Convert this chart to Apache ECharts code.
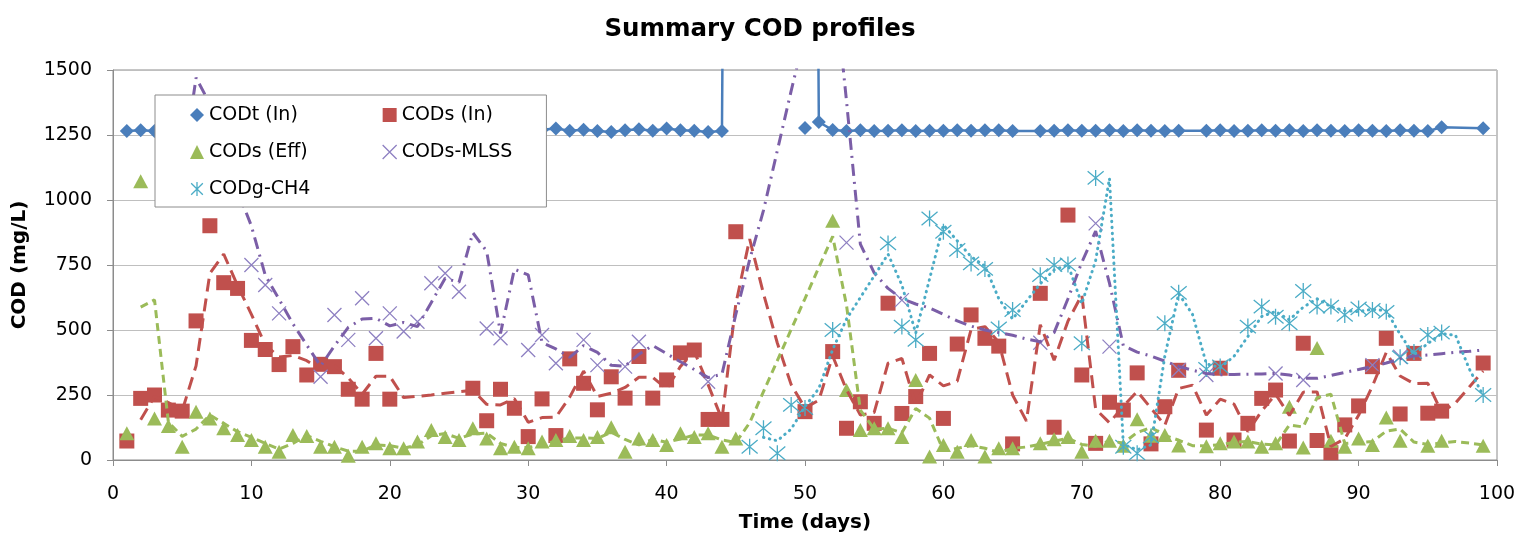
<!DOCTYPE html>
<html><head><meta charset="utf-8">
<script src="https://cdn.jsdelivr.net/npm/echarts@6/dist/echarts.min.js"></script>
<style>html,body{margin:0;padding:0;background:#fff}#chart{width:1520px;height:540px}</style>
</head><body><div id="chart"></div>
<script>
// ---------------- data ----------------
// [day, COD mg/L]
const codtIn = [[1,1265],[2,1268],[3,1265],[31,1270],[32,1275],[33,1266],[34,1270],[35,1265],[36,1262],[37,1268],[38,1272],[39,1266],[40,1275],[41,1268],[42,1266],[43,1262],[44,1265],[45,9000],[50,9000],[51,1300],[52,1269],[53,1265],[54,1268],[55,1265],[56,1266],[57,1268],[58,1265],[59,1266],[60,1266],[61,1268],[62,1266],[63,1268],[64,1268],[65,1265],[67,1265],[68,1266],[69,1268],[70,1266],[71,1266],[72,1268],[73,1265],[74,1268],[75,1266],[76,1265],[77,1266],[79,1266],[80,1268],[81,1265],[82,1266],[83,1268],[84,1266],[85,1268],[86,1265],[87,1268],[88,1266],[89,1265],[90,1268],[91,1266],[92,1265],[93,1268],[94,1266],[95,1265],[96,1280],[99,1276]];
const codtInDay50 = [[50,1277]];
const codsIn = [[1,73],[2,237],[3,250],[4,192],[5,188],[6,535],[7,901],[8,682],[9,660],[10,460],[11,425],[12,367],[13,436],[14,327],[15,368],[16,359],[17,272],[18,234],[19,410],[20,234],[26,276],[27,151],[28,272],[29,199],[30,90],[31,235],[32,94],[33,389],[34,295],[35,193],[36,320],[37,238],[38,398],[39,238],[40,308],[41,412],[42,423],[43,156],[44,156],[45,878],[50,186],[52,417],[53,122],[54,224],[55,141],[56,603],[57,179],[58,244],[59,410],[60,160],[61,446],[62,558],[63,468],[64,438],[65,62],[67,641],[68,126],[69,942],[70,327],[71,64],[72,222],[73,192],[74,335],[75,62],[76,205],[77,345],[79,115],[80,353],[81,77],[82,141],[83,237],[84,269],[85,73],[86,449],[87,75],[88,28],[89,135],[90,208],[91,359],[92,468],[93,177],[94,410],[95,180],[96,188],[99,373]];
const codsEff = [[1,103],[2,1072],[3,160],[4,131],[5,51],[6,186],[7,160],[8,122],[9,96],[10,77],[11,51],[12,32],[13,96],[14,92],[15,51],[16,51],[17,16],[18,51],[19,64],[20,45],[21,45],[22,71],[23,115],[24,88],[25,77],[26,122],[27,83],[28,45],[29,51],[30,45],[31,71],[32,77],[33,92],[34,77],[35,88],[36,126],[37,32],[38,83],[39,77],[40,58],[41,103],[42,88],[43,103],[44,51],[45,83],[52,920],[53,269],[54,115],[55,122],[56,122],[57,88],[58,308],[59,13],[60,58],[61,32],[62,77],[63,13],[64,45],[65,45],[67,64],[68,80],[69,88],[70,32],[71,74],[72,74],[73,55],[74,157],[75,93],[76,96],[77,56],[79,53],[80,64],[81,71],[82,71],[83,51],[84,64],[85,205],[86,48],[87,431],[88,74],[89,51],[90,83],[91,58],[92,163],[93,74],[95,55],[96,74],[99,55]];
const codsMlss = [[10,750],[11,673],[12,564],[15,320],[16,558],[17,462],[18,622],[19,468],[20,564],[21,494],[22,532],[23,680],[24,718],[25,647],[27,506],[28,468],[30,423],[31,481],[32,372],[34,462],[35,365],[37,359],[38,455],[43,301],[53,836],[57,615],[67,451],[71,910],[72,436],[77,346],[79,327],[84,333],[86,308],[91,365],[93,397]];
const codgCh4 = [[46,51],[47,122],[48,26],[49,212],[50,200],[52,500],[56,833],[57,513],[58,462],[59,929],[60,878],[61,808],[62,756],[63,735],[64,506],[65,577],[67,711],[68,750],[69,752],[70,449],[71,1085],[73,51],[74,26],[75,90],[76,526],[77,643],[79,350],[80,360],[82,513],[83,590],[84,551],[85,526],[86,650],[87,590],[88,590],[89,558],[90,583],[91,577],[92,570],[93,395],[94,415],[95,481],[96,490],[99,250]];

// trend lines (2-point moving-average style lines), one value per day from the start day
const trendRedStart = 2;
const trendRed = [155,244,221,190,362,718,792,671,560,443,
 396,402,382,348,364,316,253,322,322,240,
 245,250,257,263,268,214,212,236,145,163,
 165,242,342,244,257,279,318,318,273,360,
 418,290,156,600,850,640,450,290,200,230,
 400,270,173,183,372,391,212,327,285,303,
 502,513,453,250,150,520,384,534,635,196,
 143,207,264,199,134,275,288,173,234,215,
 109,189,253,171,261,262,52,82,172,284,
 414,323,294,295,184,219,281,342];
const trendGreenStart = 2;
const trendGreen = [588,616,146,91,119,173,141,109,87,64,
 42,64,94,72,51,34,34,58,55,45,
 58,93,102,83,100,103,64,48,48,58,
 74,85,85,83,107,79,58,80,68,81,
 96,96,77,67,143,263,382,502,621,741,
 860,595,192,119,122,105,198,161,36,45,
 55,45,29,45,50,60,72,84,60,53,
 74,65,106,125,95,76,55,54,59,68,
 71,61,58,135,127,240,253,63,67,71,
 111,119,69,60,65,71,65,58];
const trendPurpleStart = 5;
const trendPurple = [1100,1470,1370,1012,1037,900,711,618,524,442,
 361,439,510,542,545,516,529,513,606,699,
 683,874,803,487,734,712,452,427,395,440,
 414,364,361,407,440,409,378,348,317,330,
 560,770,960,1190,1420,1640,1860,1900,1380,830,
 720,660,620,600,585,560,535,515,500,490,
 480,465,455,490,620,760,880,680,440,415,
 400,380,360,345,333,328,329,330,331,333,
 327,315,314,325,337,348,360,373,389,400,
 404,409,414,418,423];
const trendCyanStart = 47;
const trendCyan = [87,74,119,206,275,425,542,625,708,792,
 673,488,696,904,843,782,746,621,542,611,
 678,731,751,601,767,1083,60,39,58,400,
 640,560,370,355,399,475,552,571,539,588,
 620,590,574,571,580,574,483,405,448,486,
 480,350,248];

const xTicks = {min:0, max:100, step:10};
const yTicks = {min:0, max:1500, step:250};

// ---------------- styling ----------------
const F = 'DejaVu Sans';
const COL = {blue:'#4a7ebb', red:'#c0504d', green:'#9bbb59', purple:'#8e80c2', purpleLine:'#7b5ea7', cyan:'#4bacc6'};
const X_PATH = 'path://M0,0L10,10M10,0L0,10';
const STAR_PATH = 'path://M0,0L10,10M10,0L0,10M5,-1L5,11';
const toPairs = (start, arr) => arr.map((v, i) => [start + i, v]);

const legendText = {fontFamily:F, fontSize:19, color:'#000', lineHeight:20};

const option = {
  animation:false,
  backgroundColor:'#ffffff',
  title:{text:'Summary COD profiles', left:'center', top:17, padding:0,
    textStyle:{fontFamily:F, fontSize:24.5, fontWeight:'bold', color:'#000'}},
  grid:{left:113, right:23, top:70, bottom:80, show:true, borderColor:'#8c8c8c', borderWidth:1,
    backgroundColor:'rgba(0,0,0,0)', outerBoundsMode:'none', containLabel:false},
  legend:[
    {orient:'vertical', left:155, top:95, padding:[10,236,8,35], itemGap:17, itemWidth:14, itemHeight:14,
      backgroundColor:'#ffffff', borderColor:'#8c8c8c', borderWidth:1, zlevel:1, z:10, selectedMode:false,
      textStyle:legendText,
      data:[
        {name:'CODt (In)', icon:'diamond', itemStyle:{color:COL.blue, borderWidth:0}},
        {name:'CODs (Eff)', icon:'triangle', itemStyle:{color:COL.green, borderWidth:0}},
        {name:'CODg-CH4', icon:STAR_PATH, itemStyle:{color:'rgba(0,0,0,0)', borderColor:COL.cyan, borderWidth:1.3}}
      ]},
    {orient:'vertical', left:382, top:95, padding:[10,5,8,0], itemGap:17, itemWidth:14, itemHeight:14,
      zlevel:1, z:11, selectedMode:false, textStyle:legendText,
      data:[
        {name:'CODs (In)', icon:'rect', itemStyle:{color:COL.red, borderWidth:0}},
        {name:'CODs-MLSS', icon:X_PATH, itemStyle:{color:'rgba(0,0,0,0)', borderColor:COL.purple, borderWidth:1.3}}
      ]}
  ],
  xAxis:{type:'value', min:xTicks.min, max:xTicks.max, interval:xTicks.step,
    name:'Time (days)', nameLocation:'middle', nameGap:53, nameMoveOverlap:false,
    nameTextStyle:{fontFamily:F, fontSize:20, fontWeight:'bold', color:'#000'},
    axisLine:{show:true, onZero:false, lineStyle:{color:'#8c8c8c', width:1}},
    axisTick:{show:true, inside:false, length:6, lineStyle:{color:'#8c8c8c'}},
    axisLabel:{fontFamily:F, fontSize:19, color:'#000', margin:25, formatter:v => String(v)},
    splitLine:{show:false}},
  yAxis:{type:'value', min:yTicks.min, max:yTicks.max, interval:yTicks.step,
    name:'COD (mg/L)', nameLocation:'middle', nameGap:83, nameRotate:90, nameMoveOverlap:false,
    nameTextStyle:{fontFamily:F, fontSize:20, fontWeight:'bold', color:'#000'},
    axisLine:{show:true, lineStyle:{color:'#8c8c8c', width:1}},
    axisTick:{show:true, inside:false, length:6, lineStyle:{color:'#8c8c8c'}},
    axisLabel:{fontFamily:F, fontSize:19, color:'#000', margin:21, formatter:v => String(v)},
    splitLine:{show:true, lineStyle:{color:'#bfbfbf', width:1}}},
  series:[
    {name:'CODt (In)', type:'line', data:codtIn, clip:true, symbol:'diamond', symbolSize:14, showSymbol:true,
      lineStyle:{color:COL.blue, width:2.5}, itemStyle:{color:COL.blue, borderWidth:0, opacity:1}, z:2, silent:true},
    {name:'CODt (In)', type:'scatter', data:codtInDay50, clip:true, symbol:'diamond', symbolSize:14,
      itemStyle:{color:COL.blue, opacity:1}, z:2, silent:true},
    {name:'CODs (In)', type:'scatter', data:codsIn, clip:true, symbol:'rect', symbolSize:15,
      itemStyle:{color:COL.red, opacity:1}, z:2, silent:true},
    {name:'CODs (Eff)', type:'scatter', data:codsEff, clip:true, symbol:'triangle', symbolSize:[15,14],
      itemStyle:{color:COL.green, opacity:1}, z:2, silent:true},
    {name:'CODs-MLSS', type:'scatter', data:codsMlss, clip:true, symbol:X_PATH, symbolSize:14,
      itemStyle:{color:'rgba(0,0,0,0)', borderColor:COL.purple, borderWidth:1.3, opacity:1}, z:2, silent:true},
    {name:'CODg-CH4', type:'scatter', data:codgCh4, clip:true, symbol:STAR_PATH, symbolSize:16,
      itemStyle:{color:'rgba(0,0,0,0)', borderColor:COL.cyan, borderWidth:1.3, opacity:1}, z:2, silent:true},
    {name:'trend CODs (In)', type:'line', data:toPairs(trendRedStart, trendRed), clip:true, symbol:'none',
      lineStyle:{color:COL.red, width:3, type:[13,7]}, z:3, silent:true},
    {name:'trend CODs (Eff)', type:'line', data:toPairs(trendGreenStart, trendGreen), clip:true, symbol:'none',
      lineStyle:{color:COL.green, width:3, type:[8,5]}, z:3, silent:true},
    {name:'trend CODs-MLSS', type:'line', data:toPairs(trendPurpleStart, trendPurple), clip:true, symbol:'none',
      lineStyle:{color:COL.purpleLine, width:3, type:[12,6,2,6]}, z:3, silent:true},
    {name:'trend CODg-CH4', type:'line', data:toPairs(trendCyanStart, trendCyan), clip:true, symbol:'none',
      lineStyle:{color:COL.cyan, width:3, type:[0.5,5.5], cap:'round'}, z:3, silent:true}
  ]
};

const chart = echarts.init(document.getElementById('chart'), null, {renderer:'canvas'});
chart.setOption(option);
</script></body></html>
